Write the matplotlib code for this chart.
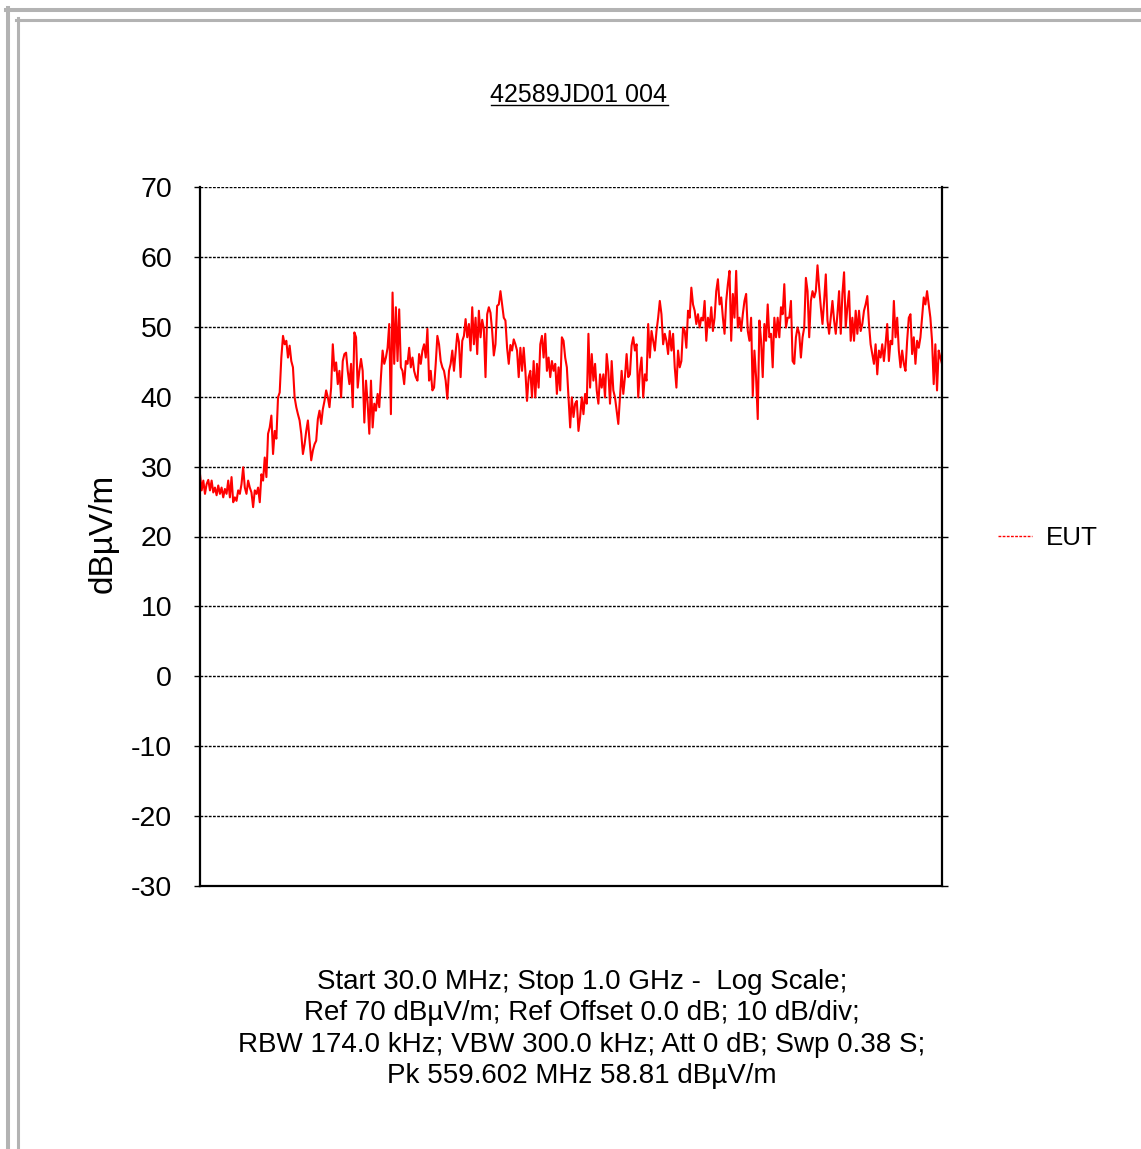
import numpy as np
from matplotlib import pyplot as plt
from matplotlib.lines import Line2D
from matplotlib.ticker import NullLocator

plt.rcParams['font.family'] = ['Liberation Sans', 'DejaVu Sans']
plt.rcParams['axes.unicode_minus'] = False

seg1 = [28.9, 26.6, 28, 26.1, 27.5, 28.1, 26.6, 28, 26.3, 27,
        25.9, 27.3, 26.1, 27, 25.6, 26.8, 26.1, 28, 25.6, 28.5,
        24.9, 25.6, 25.1, 26.6, 26.1, 27.5, 29.9, 27, 26.1, 28,
        27, 26.3, 24.2, 26.6, 26.1, 27, 24.9, 28.9, 28, 31.3,
        28.5, 34.7, 35.6, 37.3, 31.8, 35.1, 34, 39.9, 40.6, 45.6,
        48.7, 47.5, 48, 45.6, 47.3, 45.1, 44.2, 39.9, 38.5, 37.5,
        36.6, 34.7, 31.8, 33.2, 35.1, 36.6, 33.7, 30.9, 32.3, 33.2,
        33.7, 36.8, 38, 36.1, 38.2, 39.4, 40.9, 39.9, 38.5, 41.3,
        47.5, 43.7, 44.9, 41.8, 43.7, 39.9, 45.1, 46.1, 46.3, 43.7, 41.8]
seg2 = [44.2, 44.7, 38.5, 49.2, 48.5, 41.3, 43.7, 45.4, 43.7, 36.3,
        42.3, 39, 34.7, 42.3, 35.6, 39, 38, 40.4, 38.5, 42.8,
        46.6, 44.7, 45.6, 47, 50.4, 37.5, 54.9, 44.7, 52.8, 45.1,
        52.5, 44.2, 43.7, 41.8, 45.1, 44.7, 47, 44.2, 45.6, 43.7,
        42.8, 42.3, 46.1, 44.7, 46.6, 47.5, 45.6, 49.7, 42.3, 43.7,
        40.9, 41.3, 44.7, 48.7, 47.5, 45.1, 44.2, 43.7, 42.3, 39.7,
        43.7, 44.7, 46.6, 43.7, 46.3, 49, 47.8, 42.8, 48, 48.7,
        51.1, 48.5, 50.4, 46.6, 52.8, 47.5, 51.3, 46.1, 52.3, 48.5,
        51, 49.7, 42.8, 51.8, 52.8, 52, 49.4, 45.9, 47.5, 53, 53.2]
seg3 = [53.7, 55.1, 53.2, 51.3, 50.9, 47, 44.7, 47.4, 46.6, 48.2,
        47.5, 46.6, 42.8, 47, 43.7, 47, 43.7, 39.4, 42.8, 43.7,
        39.9, 45.1, 39.9, 44.7, 41.3, 47.5, 48.7, 45.6, 49, 43.7,
        45.6, 42.8, 45.1, 43.7, 44.7, 40.4, 44.2, 40.9, 48.5, 48,
        45.6, 44.2, 39.9, 35.6, 39.9, 37.1, 39, 39.4, 35.1, 37.1,
        39.9, 37.5, 40.4, 39, 49, 41.3, 46.1, 42.3, 44.7, 40.9,
        39, 43.2, 41.3, 43.2, 39.9, 46.1, 43.7, 39, 45.1, 40.9,
        39.9, 38, 36.1, 39.9, 43.7, 40.4, 42.8, 46.1, 42.8, 43.2,
        47.3, 48.5, 46.6, 47.5, 39.9, 43.7, 45.6, 39.9, 43.2, 42.3, 50.4]
seg4 = [50.4, 45.6, 49.4, 48, 46.6, 49.4, 51.3, 53.7, 51.8, 47.5,
        49, 48, 46.1, 49.4, 46.6, 49, 44.2, 41.3, 46.6, 44.2,
        45.1, 49.9, 49.4, 47, 52.3, 51.3, 55.6, 53.2, 52.3, 50.4,
        51.8, 49.9, 51.3, 50.9, 53.7, 48, 51.3, 49.9, 52.8, 49.4,
        51.3, 55.1, 56.8, 53.2, 54.2, 51.3, 49, 53.7, 56.1, 58,
        48, 54.7, 51.3, 58, 49.9, 51.3, 49.4, 51.8, 53.7, 54.7,
        49.4, 48, 51.3, 40.1, 46.6, 42.8, 36.8, 50.9, 48, 42.8,
        50.4, 48, 53.2, 48.5, 49, 44.2, 51.3, 48.5, 51.3, 48.5,
        52.8, 51.8, 56.1, 49.9, 51.3, 51.3, 53.7, 45.1, 44.7, 48.5, 49.9]
seg5 = [51.8, 49, 45.6, 48.5, 49.9, 57, 55.1, 48.5, 53.7, 55.1,
        54.2, 55.1, 58.8, 55.6, 52.8, 50.4, 53.7, 57.5, 50.9, 49,
        51.3, 53.7, 50.9, 49, 51.8, 55.1, 49, 54.7, 57.8, 49.9,
        52.8, 55.1, 48, 51.3, 48, 52.3, 49, 52.3, 49.4, 50.4,
        52.3, 53.2, 54.4, 50.4, 47.5, 46.1, 44.7, 47.5, 43.2, 46.6,
        45.6, 47.5, 45.1, 47.5, 50.4, 45.1, 48, 47.5, 53.7, 48.5,
        51.3, 46.6, 44.2, 46.6, 44.7, 43.7, 48, 51.3, 51.8, 46.1,
        48.5, 44.7, 48, 47, 48.5, 51.3, 54.2, 53.2, 55.1, 53.2,
        51.3, 48, 41.8, 47.5, 40.9, 46.6, 45.6, 44.7]

f_start, f_stop = 30.0, 1000.0   # MHz, log sweep
yticks = [70, 60, 50, 40, 30, 20, 10, 0, -10, -20, -30]
title = "42589JD01 004"
ylabel = "dB\u00b5V/m"
footer = ["Start 30.0 MHz; Stop 1.0 GHz -  Log Scale;",
          "Ref 70 dB\u00b5V/m; Ref Offset 0.0 dB; 10 dB/div;",
          "RBW 174.0 kHz; VBW 300.0 kHz; Att 0 dB; Swp 0.38 S;",
          "Pk 559.602 MHz 58.81 dB\u00b5V/m"]

level = np.array(seg1 + seg2[1:] + seg3[1:] + seg4[1:] + seg5[1:])
freq = np.geomspace(f_start, f_stop, len(level))

W, H = 1141, 1149
fig = plt.figure(figsize=(W / 100, H / 100), dpi=100)
ax = fig.add_axes([200 / W, 1 - 886 / H, 742 / W, 699 / H])

ax.plot(freq, level, color="red", linewidth=1.5, label="EUT")

ax.set_xscale("log")
ax.set_xlim(f_start, f_stop)
ax.xaxis.set_major_locator(NullLocator())
ax.xaxis.set_minor_locator(NullLocator())
ax.set_ylim(-30, 70)
ax.set_yticks(yticks)
ax.tick_params(axis="y", labelsize=20.5, length=4, width=1, pad=16, right=True)
ax.grid(axis="y", color="black", linestyle=(0, (2, 1)), linewidth=1)

ax.spines["top"].set_visible(False)
for s in ["left", "right", "bottom"]:
    ax.spines[s].set_linewidth(1.6)
    ax.spines[s].set_color("black")

fig.text(103 / W, 1 - 533 / H, ylabel, rotation=90, ha="center", va="center", fontsize=24)

#title with an underline
t = fig.text(579 / W, 1 - 95 / H, title, ha="center", va="center", fontsize=18)
fig.canvas.draw()
bb = t.get_window_extent(fig.canvas.get_renderer())
fig.add_artist(Line2D([bb.x0 / W, bb.x1 / W], [(bb.y0 + 2) / H, (bb.y0 + 2) / H],
                      transform=fig.transFigure, color="black", linewidth=1))

handle = Line2D([], [], color="red", linewidth=1, linestyle=(0, (2, 1)))
fig.legend([handle], ["EUT"], loc="center left", bbox_to_anchor=(998 / W, 1 - 538 / H),
           frameon=False, fontsize=18.7, handlelength=1.3, handletextpad=0.55, borderpad=0,
           borderaxespad=0)

for i, line in enumerate(footer):
    fig.text(582 / W, 1 - (982 + 31.3 * i) / H, line, ha="center", va="center", fontsize=20)

#grey double frame at top and left
grey = "#b3b3b3"
fig.add_artist(Line2D([6 / W, 1], [1 - 10 / H, 1 - 10 / H], transform=fig.transFigure, color=grey, linewidth=2.9))
fig.add_artist(Line2D([8 / W, 8 / W], [0, 1 - 8 / H], transform=fig.transFigure, color=grey, linewidth=2.9))
fig.add_artist(Line2D([16 / W, 1], [1 - 19.5 / H, 1 - 19.5 / H], transform=fig.transFigure, color=grey, linewidth=2.2))
fig.add_artist(Line2D([17.5 / W, 17.5 / W], [0, 1 - 18 / H], transform=fig.transFigure, color=grey, linewidth=2.2))

fig.savefig("out.png", dpi=100)
